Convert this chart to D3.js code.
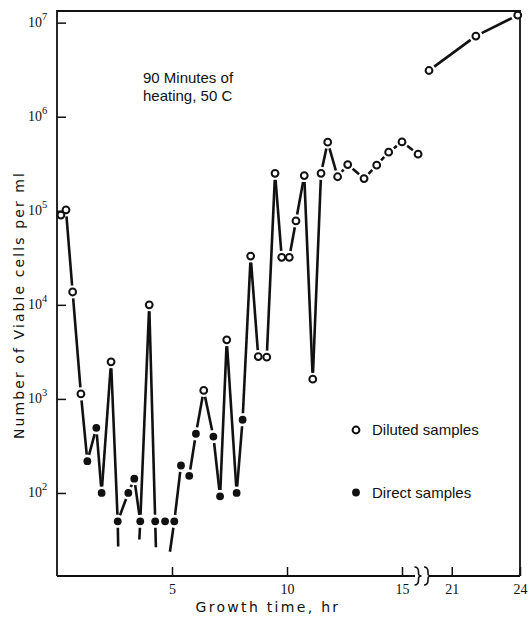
<!DOCTYPE html>
<html>
<head>
<meta charset="utf-8">
<script src="https://cdn.jsdelivr.net/npm/d3@7"></script>
<style>
  body { margin: 0; background: #fff; }
  svg { display: block; }
</style>
</head>
<body>
<div id="chart"></div>
<script>
// growth time (hr) and viable cells per ml
const hours = [0.17, 0.39, 0.68, 1.04, 1.32, 1.71, 1.94, 2.35, 2.64, 3.1, 3.36, 3.62, 4.01, 4.27, 4.7,
  5.1, 5.39, 5.75, 6.04, 6.38, 6.8, 7.09, 7.38, 7.81, 8.07, 8.42, 8.75, 9.12, 9.48, 9.77, 10.1,
  10.39, 10.75, 11.12, 11.48, 11.77, 12.2, 12.64, 13.35, 13.9, 14.42, 15.0, 15.7];
const cells = [9.0e4, 1.02e5, 1.37e4, 1130, 218, 493, 100, 2480, 50, 100, 142, 50, 1.0e4, 50, 50,
  50, 196, 152, 426, 1230, 398, 92, 4250, 100, 600, 3.3e4, 2820, 2780, 2.5e5, 3.2e4, 3.2e4,
  7.8e4, 2.37e5, 1620, 2.5e5, 5.36e5, 2.3e5, 3.1e5, 2.2e5, 3.05e5, 4.2e5, 5.4e5, 4.0e5];
// D = diluted sample (open), S = direct sample (filled)
const sampleType = "DDDDSSSDSSSSDSSSSSSDSSDSSDDDDDDDDDDDDDDDDDD".split("");
const breaksBefore = [14, 15]; // points not joined to the one before

// short strokes running down from the lowest direct samples
const stubPoint = [8, 11, 13, 15];
const stubHours = [2.66, 3.58, 4.3, 4.91];
const stubCells = [27, 32, 26.5, 23.7];

// readings after the axis break
const lateHours = [20, 22.06, 23.9];
const lateCells = [3.1e6, 7.2e6, 1.2e7];

const xTicks = [5, 10, 15, 21, 24];
const yPowers = [2, 3, 4, 5, 6, 7];
const legendLabels = ["Diluted samples", "Direct samples"];
const noteLines = ["90 Minutes of", "heating, 50 C"];

const width = 530,
      height = 619,
      ink = "#111",
      gap = 6.5; // lines stop short of the markers

const x = d3.scaleLinear().domain([0, 16, 20, 24]).range([57, 425, 429, 520]);
const y = d3.scaleLog().domain([13.1, 1.33e7]).range([576, 11]);

const svg = d3.select("#chart")
  .append("svg")
  .attr("width", width)
  .attr("height", height);

// frame: left, top, right, and a bottom axis broken between 16 and 20 hr
svg.append("path")
  .attr("d", `M57,576V11H520V576 M57,576H415 M430,576H520`)
  .attr("fill", "none")
  .attr("stroke", ink)
  .attr("stroke-width", 1.8);

// the two brace marks at the break
svg.append("g")
  .attr("fill", "none")
  .attr("stroke", ink)
  .attr("stroke-width", 1.6)
  .selectAll("path")
  .data([417.5, 427])
  .join("path")
  .attr("d", c => `M${c - 3},567 C${c + 1},567 ${c + 1},570 ${c + 1},572 C${c + 1},574.5 ${c + 1},576 ${c + 4},576`
    + ` C${c + 1},576 ${c + 1},577.5 ${c + 1},580 C${c + 1},582 ${c + 1},585 ${c - 3},585`);

// x axis ticks point inwards
svg.append("g")
  .attr("transform", "translate(0,576)")
  .call(d3.axisBottom(x).tickValues(xTicks).tickSizeInner(-9).tickSizeOuter(0).tickPadding(8))
  .call(g => g.select(".domain").remove())
  .call(g => g.selectAll("line").attr("stroke", ink).attr("stroke-width", 1.5))
  .call(g => g.selectAll("text").attr("fill", ink))
  .attr("font-family", "Liberation Serif, serif")
  .attr("font-size", 14);

// y axis, labels as 10 with superscript power
svg.append("g")
  .attr("transform", "translate(57,0)")
  .call(d3.axisLeft(y).tickValues(yPowers.map(k => 10 ** k)).tickSizeInner(-9).tickSizeOuter(0).tickFormat(() => ""))
  .call(g => g.select(".domain").remove())
  .call(g => g.selectAll("line").attr("stroke", ink).attr("stroke-width", 1.5))
  .attr("font-family", "Liberation Serif, serif")
  .attr("font-size", 14)
  .selectAll(".tick text")
  .attr("x", -29)
  .attr("y", 4)
  .attr("dy", null)
  .attr("text-anchor", "start")
  .attr("fill", ink)
  .each(function(d) {
    const t = d3.select(this);
    t.append("tspan").text("10");
    t.append("tspan").attr("dy", -7).attr("font-size", 10.5).text(Math.round(Math.log10(d)));
  });

// axis titles
svg.append("text")
  .attr("transform", "translate(24,305) rotate(-90)")
  .attr("text-anchor", "middle")
  .attr("font-family", "DejaVu Sans, sans-serif")
  .attr("font-size", 14)
  .attr("letter-spacing", 2.1)
  .attr("fill", ink)
  .text("Number of Viable cells per ml");

svg.append("text")
  .attr("x", 268)
  .attr("y", 612)
  .attr("text-anchor", "middle")
  .attr("font-family", "DejaVu Sans, sans-serif")
  .attr("font-size", 14)
  .attr("letter-spacing", 2.3)
  .attr("fill", ink)
  .text("Growth time, hr");

// note
svg.append("text")
  .attr("font-family", "Liberation Sans, sans-serif")
  .attr("font-size", 15)
  .attr("fill", ink)
  .selectAll("tspan")
  .data(noteLines)
  .join("tspan")
  .attr("x", 143)
  .attr("y", (d, i) => 83 + i * 18)
  .text(d => d);

// points in pixels
const early = hours.map((h, i) => ({ px: x(h), py: y(cells[i]), type: sampleType[i] }));
const late = lateHours.map((h, i) => ({ px: x(h), py: y(lateCells[i]), type: "D" }));

// segments between neighbours, trimmed at both ends
function trimmed(a, b, trimA, trimB) {
  const dx = b.px - a.px, dy = b.py - a.py, len = Math.hypot(dx, dy);
  if (len <= trimA + trimB + 1) return null;
  const ux = dx / len, uy = dy / len;
  return [a.px + ux * trimA, a.py + uy * trimA, b.px - ux * trimB, b.py - uy * trimB];
}

let segs = [];
for (let i = 1; i < early.length; i++) {
  if (breaksBefore.includes(i)) continue;
  segs.push(trimmed(early[i - 1], early[i], gap, gap));
}
for (let i = 1; i < late.length; i++) {
  segs.push(trimmed(late[i - 1], late[i], gap, gap));
}
stubPoint.forEach((p, i) => {
  const end = { px: x(stubHours[i]), py: y(stubCells[i]) };
  segs.push(trimmed(early[p], end, gap, 0));
});
segs = segs.filter(s => s);

svg.append("g")
  .attr("stroke", ink)
  .attr("stroke-width", 2.6)
  .attr("stroke-linecap", "butt")
  .selectAll("line")
  .data(segs)
  .join("line")
  .attr("x1", d => d[0])
  .attr("y1", d => d[1])
  .attr("x2", d => d[2])
  .attr("y2", d => d[3]);

// markers
svg.append("g")
  .selectAll("circle")
  .data(early.concat(late))
  .join("circle")
  .attr("cx", d => d.px)
  .attr("cy", d => d.py)
  .attr("r", d => d.type === "D" ? 3.4 : 3.9)
  .attr("fill", d => d.type === "D" ? "#fff" : ink)
  .attr("stroke", ink)
  .attr("stroke-width", d => d.type === "D" ? 2 : 0);

// legend
const legend = svg.append("g")
  .selectAll("g")
  .data(legendLabels)
  .join("g")
  .attr("transform", (d, i) => `translate(356,${430 + i * 62.5})`);

legend.append("circle")
  .attr("r", (d, i) => i ? 3.9 : 3.4)
  .attr("fill", (d, i) => i ? ink : "#fff")
  .attr("stroke", ink)
  .attr("stroke-width", (d, i) => i ? 0 : 2);

legend.append("text")
  .attr("x", 16)
  .attr("y", 5)
  .attr("font-family", "Liberation Sans, sans-serif")
  .attr("font-size", 15)
  .attr("fill", ink)
  .text(d => d);
</script>
</body>
</html>
